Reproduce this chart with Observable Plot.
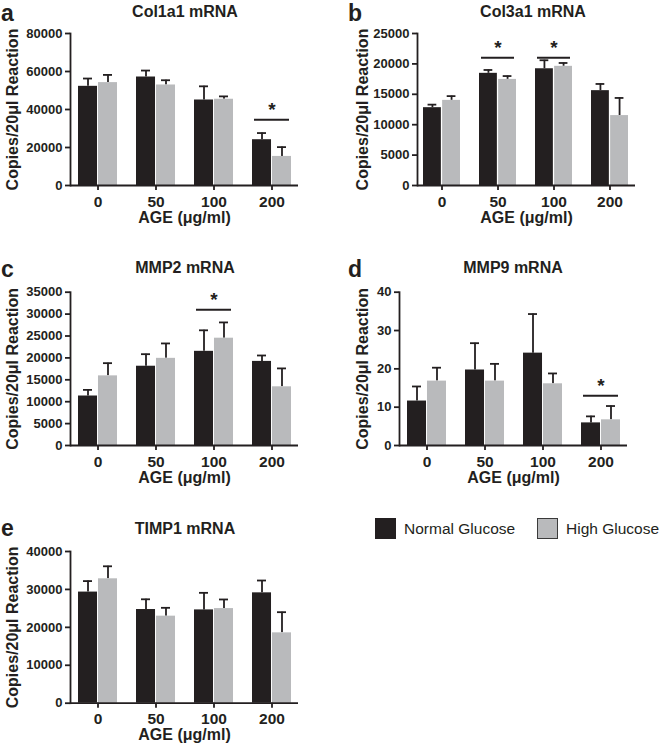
<!DOCTYPE html>
<html><head><meta charset="utf-8">
<script src="https://cdn.jsdelivr.net/npm/d3@7"></script>
<script src="https://cdn.jsdelivr.net/npm/@observablehq/plot@0.6"></script>
<style>
body{margin:0;background:#fff;}
#fig{position:relative;width:660px;height:750px;font-family:"Liberation Sans",Arial,sans-serif;color:#231f20;overflow:hidden;}
.t{position:absolute;white-space:nowrap;}
.p{position:absolute;}
.sw{position:absolute;box-sizing:border-box;}
</style></head><body><div id="fig"></div>
<script>
// ---------- data ----------
const ages = ["0", "50", "100", "200"];
const seriesNames = ["Normal Glucose", "High Glucose"];
const xLabel = "AGE (μg/ml)";
const yLabel = "Copies/20μl Reaction";

const col1a1Normal = [52200, 57100, 45000, 24100];
const col1a1NormalUpper = [56300, 60500, 52200, 27600];
const col1a1High = [54150, 52900, 45400, 15300];
const col1a1HighUpper = [58200, 55400, 46900, 20200];
const col1a1SigAges = ["200"];
const col1a1SigLine = [34600];
const col1a1Ticks = [0, 20000, 40000, 60000, 80000];

const col3a1Normal = [12800, 18450, 19200, 15600];
const col3a1NormalUpper = [13300, 19000, 20600, 16700];
const col3a1High = [14000, 17450, 19600, 11500];
const col3a1HighUpper = [14700, 18000, 20150, 14400];
const col3a1SigAges = ["50", "100"];
const col3a1SigLine = [21000, 21000];
const col3a1Ticks = [0, 5000, 10000, 15000, 20000, 25000];

const mmp2Normal = [11300, 18100, 21500, 19200];
const mmp2NormalUpper = [12700, 20850, 26300, 20550];
const mmp2High = [15900, 19900, 24500, 13400];
const mmp2HighUpper = [18800, 23300, 28100, 17600];
const mmp2SigAges = ["100"];
const mmp2SigLine = [31000];
const mmp2Ticks = [0, 5000, 10000, 15000, 20000, 25000, 30000, 35000];

const mmp9Normal = [11.6, 19.7, 24.1, 5.9];
const mmp9NormalUpper = [15.4, 26.7, 34.3, 7.6];
const mmp9High = [16.8, 16.8, 16.1, 6.7];
const mmp9HighUpper = [20.3, 21.3, 18.8, 10.3];
const mmp9SigAges = ["200"];
const mmp9SigLine = [13.0];
const mmp9Ticks = [0, 10, 20, 30, 40];

const timp1Normal = [29300, 24700, 24600, 29100];
const timp1NormalUpper = [32200, 27400, 29100, 32350];
const timp1High = [32800, 22950, 24950, 18550];
const timp1HighUpper = [36100, 25150, 27350, 24000];
const timp1SigAges = [];
const timp1SigLine = [];
const timp1Ticks = [0, 10000, 20000, 30000, 40000];

// ---------- style ----------
const FONT = '"Liberation Sans", Arial, Helvetica, sans-serif';
const INK = "#231f20";
const BLACK = "#231f20";
const GRAY = "#b9babc";
const SW = 1.8;

const fig = document.getElementById("fig");

// place an HTML text by its baseline (line-height L em)
function addText(str, {x, baseline, size, weight = "bold", anchor = "middle", L = 0.8}) {
  const d = document.createElement("div");
  d.className = "t";
  d.textContent = str;
  d.style.fontSize = size + "px";
  d.style.lineHeight = L;
  d.style.fontWeight = weight;
  d.style.top = (baseline - (L / 2 + 0.3465) * size) + "px";
  d.style.left = x + "px";
  if (anchor === "middle") d.style.transform = "translateX(-50%)";
  fig.appendChild(d);
}

function panel(cfg) {
  const {normal, normalUpper, high, highUpper, sigAges, sigLine, ticks, box, m, yGap} = cfg;
  const rowsN = ages.map((a, i) => ({age: a, value: normal[i], upper: normalUpper[i]}));
  const rowsH = ages.map((a, i) => ({age: a, value: high[i], upper: highUpper[i]}));
  const sig = sigAges.map((a, i) => ({age: a, y: sigLine[i]}));
  const [mL, mT, mR, mB] = m;
  const pi = 0.336, po = 0.11;
  const fw = box.w - mL - mR;
  const step = fw / (ages.length - pi + 2 * po);
  const bw = step * (1 - pi);
  const half = bw / 2;
  const off = (half + 0.5) / 2;
  const capInset = (bw - 9) / 2;
  const chart = Plot.plot({
    width: box.w, height: box.h,
    marginLeft: mL, marginTop: mT, marginRight: mR, marginBottom: mB,
    style: {fontFamily: FONT, color: INK, background: "transparent", overflow: "visible"},
    x: {type: "band", domain: ages, paddingInner: pi, paddingOuter: po},
    y: {domain: [ticks[0], ticks[ticks.length - 1]]},
    marks: [
      Plot.ruleX(rowsN, {x: "age", y1: "value", y2: "upper", dx: -off, stroke: INK, strokeWidth: SW}),
      Plot.tickY(rowsN, {x: "age", y: "upper", dx: -off, inset: capInset, stroke: INK, strokeWidth: SW}),
      Plot.ruleX(rowsH, {x: "age", y1: "value", y2: "upper", dx: off, stroke: INK, strokeWidth: SW}),
      Plot.tickY(rowsH, {x: "age", y: "upper", dx: off, inset: capInset, stroke: INK, strokeWidth: SW}),
      Plot.barY(rowsN, {x: "age", y: "value", fill: BLACK, insetRight: half + 0.5}),
      Plot.barY(rowsH, {x: "age", y: "value", fill: GRAY, insetLeft: half + 0.5}),
      Plot.tickY(sig, {x: "age", y: "y", stroke: INK, strokeWidth: 2, inset: 2}),
      Plot.text(sig, {x: "age", y: "y", text: () => "*", dy: -10, fontSize: 19, fontWeight: "bold", fill: INK}),
      Plot.ruleY([0], {stroke: INK, strokeWidth: SW}),
      Plot.frame({anchor: "left", stroke: INK, strokeWidth: SW}),
      Plot.axisY({ticks, tickFormat: d => String(d), tickSize: 5, tickPadding: 3, fontSize: 13, fontWeight: "bold", strokeWidth: SW, label: null}),
      Plot.axisX({tickSize: 5, tickPadding: 5, fontSize: 15.5, fontWeight: "bold", strokeWidth: SW, label: null}),
      Plot.text([xLabel], {frameAnchor: "bottom", lineAnchor: "middle", textAnchor: "middle", dy: 32, fontSize: 16, fontWeight: "bold", fill: INK}),
      Plot.text([yLabel], {frameAnchor: "left", lineAnchor: "middle", textAnchor: "middle", rotate: -90, dx: -yGap, fontSize: 16, fontWeight: "bold", fill: INK})
    ]
  });
  const wrap = document.createElement("div");
  wrap.className = "p";
  wrap.style.left = box.x + "px";
  wrap.style.top = box.y + "px";
  wrap.appendChild(chart);
  fig.appendChild(wrap);
  addText(cfg.title, {x: cfg.titleX, baseline: cfg.titleY, size: 16});
  addText(cfg.letter, {x: cfg.letterX, baseline: cfg.letterY, size: 23, anchor: "start", L: 0.72});
}

panel({title: "Col1a1 mRNA", letter: "a", titleX: 185, titleY: 18, letterX: 1, letterY: 21.5,
  normal: col1a1Normal, normalUpper: col1a1NormalUpper, high: col1a1High, highUpper: col1a1HighUpper,
  sigAges: col1a1SigAges, sigLine: col1a1SigLine, ticks: col1a1Ticks,
  box: {x: 0, y: 0, w: 330, h: 235}, m: [70, 33, 32, 50], yGap: 58});

panel({title: "Col3a1 mRNA", letter: "b", titleX: 533, titleY: 18, letterX: 348, letterY: 21.5,
  normal: col3a1Normal, normalUpper: col3a1NormalUpper, high: col3a1High, highUpper: col3a1HighUpper,
  sigAges: col3a1SigAges, sigLine: col3a1SigLine, ticks: col3a1Ticks,
  box: {x: 330, y: 0, w: 330, h: 235}, m: [87, 33, 25, 50], yGap: 55});

panel({title: "MMP2 mRNA", letter: "c", titleX: 185, titleY: 274, letterX: 1, letterY: 277,
  normal: mmp2Normal, normalUpper: mmp2NormalUpper, high: mmp2High, highUpper: mmp2HighUpper,
  sigAges: mmp2SigAges, sigLine: mmp2SigLine, ticks: mmp2Ticks,
  box: {x: 0, y: 250, w: 330, h: 240}, m: [70, 41.7, 32, 45], yGap: 58});

panel({title: "MMP9 mRNA", letter: "d", titleX: 513, titleY: 274, letterX: 348, letterY: 277,
  normal: mmp9Normal, normalUpper: mmp9NormalUpper, high: mmp9High, highUpper: mmp9HighUpper,
  sigAges: mmp9SigAges, sigLine: mmp9SigLine, ticks: mmp9Ticks,
  box: {x: 330, y: 250, w: 330, h: 240}, m: [69, 41.7, 33, 45], yGap: 37});

panel({title: "TIMP1 mRNA", letter: "e", titleX: 185, titleY: 535, letterX: 1, letterY: 536,
  normal: timp1Normal, normalUpper: timp1NormalUpper, high: timp1High, highUpper: timp1HighUpper,
  sigAges: timp1SigAges, sigLine: timp1SigLine, ticks: timp1Ticks,
  box: {x: 0, y: 500, w: 330, h: 250}, m: [70, 51, 32, 47.3], yGap: 58});

// ---------- legend ----------
function swatch(x, y, fill, border) {
  const s = document.createElement("div");
  s.className = "sw";
  s.style.left = x + "px"; s.style.top = y + "px";
  s.style.width = "21px"; s.style.height = "21px";
  s.style.background = fill;
  s.style.border = "1.5px solid " + border;
  fig.appendChild(s);
}
swatch(375, 518, BLACK, BLACK);
addText(seriesNames[0], {x: 404, baseline: 535, size: 15.5, weight: "normal", anchor: "start"});
swatch(537, 518, GRAY, "#3a3a3a");
addText(seriesNames[1], {x: 566, baseline: 535, size: 15.5, weight: "normal", anchor: "start"});
</script>
</body></html>
